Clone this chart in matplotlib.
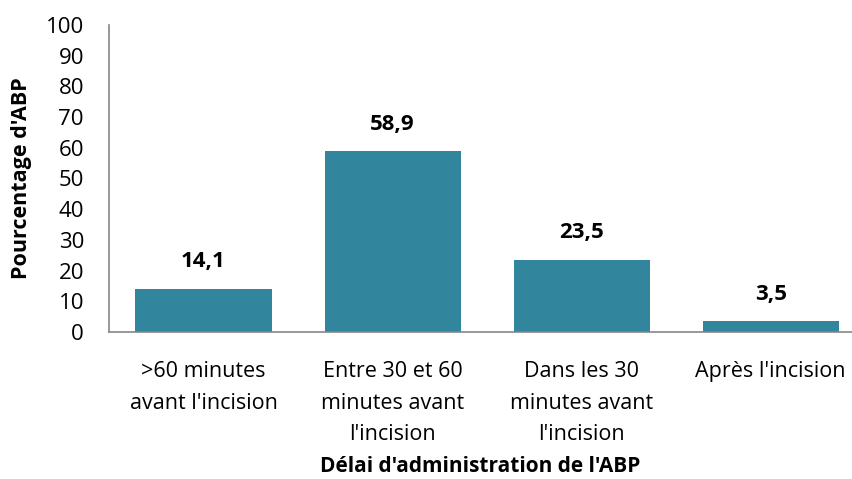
import matplotlib.pyplot as plt
import numpy as np

categories = [">60 minutes\navant l'incision",
              "Entre 30 et 60\nminutes avant\nl'incision",
              "Dans les 30\nminutes avant\nl'incision",
              "Après l'incision"]
values = [14.1, 58.9, 23.5, 3.5]
value_labels = ["14,1", "58,9", "23,5", "3,5"]

plt.rcParams['font.family'] = ['Open Sans', 'DejaVu Sans']

fig = plt.figure(figsize=(8.52, 4.79), dpi=100)
ax = fig.add_axes([109 / 852, 1 - 332 / 479, (852 - 109) / 852, (332 - 25) / 479])

x = np.arange(len(categories))
ax.bar(x, values, width=0.72, color="#31859C")

# value labels above each bar
for xi, v, lab in zip(x, values, value_labels):
    ax.annotate(lab, (xi, v), xytext=(0, 12), textcoords="offset points",
                ha="center", va="bottom", fontsize=16, fontweight="bold")

ax.set_xlim(-0.5, 3.43)
ax.set_ylim(0, 100)
ax.set_yticks(range(0, 101, 10))
ax.set_xticks(x)
ax.set_xticklabels(categories, fontsize=15.5, linespacing=1.65)
ax.tick_params(axis="y", labelsize=16, length=0, pad=18)
ax.tick_params(axis="x", length=0, pad=21)

for side in ["top", "right"]:
    ax.spines[side].set_visible(False)
for side in ["left", "bottom"]:
    ax.spines[side].set_color("#868686")
    ax.spines[side].set_linewidth(1.2)

ax.set_ylabel("Pourcentage d'ABP", fontsize=15.5, fontweight="bold", labelpad=10)
ax.set_xlabel("Délai d'administration de l'ABP", fontsize=15, fontweight="bold", labelpad=8)

fig.savefig("out.png", dpi=100)
